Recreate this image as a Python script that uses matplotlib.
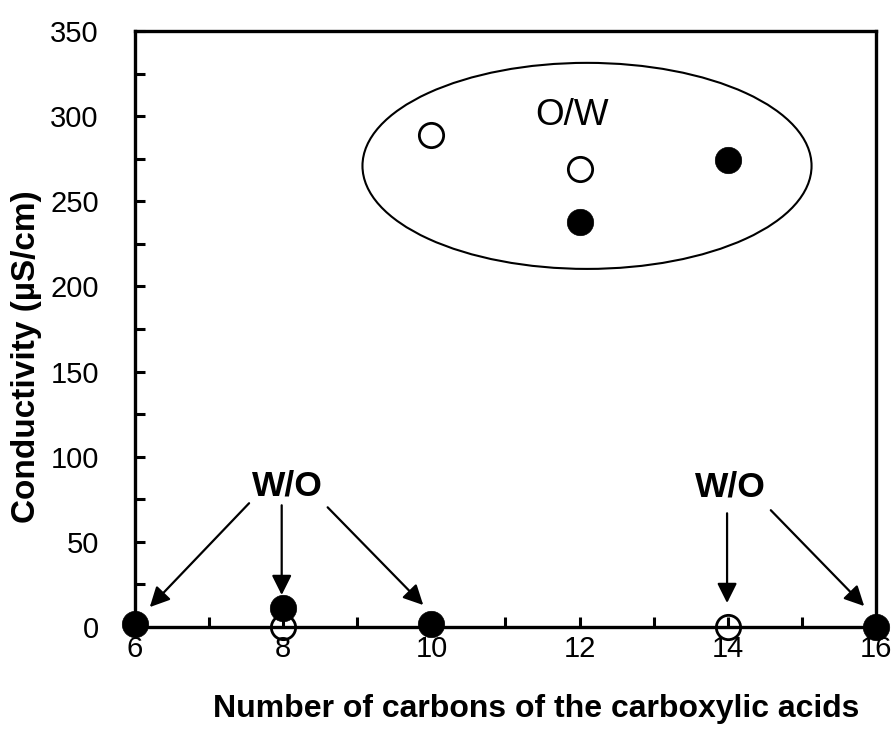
import matplotlib
matplotlib.use("Agg")
import matplotlib.pyplot as plt
from matplotlib.patches import Ellipse

plt.rcParams['font.family'] = ['Liberation Sans', 'DejaVu Sans']

# Data
carbons_filled = [6, 8, 10, 12, 14, 16]
cond_filled = [2, 11, 2, 238, 274, 0]
carbons_open = [8, 10, 12, 14]
cond_open = [0, 289, 269, 0]

x_ticks = [6, 8, 10, 12, 14, 16]
y_ticks = [0, 50, 100, 150, 200, 250, 300, 350]

fig = plt.figure(figsize=(8.95, 7.35), dpi=100)
ax = fig.add_axes([0.1508, 0.1469, 0.8280, 0.8109])

ax.set_xlim(6, 16)
ax.set_ylim(0, 350)

# O/W region ellipse
ell = Ellipse((12.10, 270.8), 6.06, 121, fill=False, edgecolor='black', lw=1.5)
ax.add_patch(ell)

ax.plot(carbons_open, cond_open, linestyle='none', marker='o', ms=17.5,
        mfc='none', mec='black', mew=2.0, clip_on=False, zorder=5)
ax.plot(carbons_filled, cond_filled, linestyle='none', marker='o', ms=19,
        mfc='black', mec='black', mew=0.5, clip_on=False, zorder=6)

# Annotations
ax.text(11.90, 300.5, 'O/W', ha='center', va='center', fontsize=26.5)
ax.text(8.06, 83, 'W/O', ha='center', va='center', fontsize=25.5, fontweight='bold')
ax.text(14.03, 82, 'W/O', ha='center', va='center', fontsize=25.5, fontweight='bold')

arrow_kw = dict(arrowstyle='-|>', color='black', lw=1.6, mutation_scale=30,
                shrinkA=0, shrinkB=0)
arrows = [((7.54, 72.7), (6.20, 11.7)),
          ((7.98, 71.5), (7.98, 18.8)),
          ((8.60, 70.3), (9.89, 12.9)),
          ((13.99, 66.8), (13.99, 14.1)),
          ((14.58, 68.6), (15.84, 12.3))]
for start, tip in arrows:
    ax.annotate('', xy=tip, xytext=start, arrowprops=arrow_kw)

ax.set_xticks(x_ticks)
ax.set_xticks(range(6, 17), minor=True)
ax.set_yticks(y_ticks)
ax.set_yticks(range(0, 351, 25), minor=True)
ax.tick_params(which='both', direction='in', width=2.2, labelsize=21,
               top=False, right=False)
ax.tick_params(which='major', length=7)
ax.tick_params(which='minor', length=7)
ax.tick_params(axis='y', pad=26)
ax.tick_params(axis='x', pad=6)

for s in ax.spines.values():
    s.set_linewidth(2.4)

ax.set_xlabel('Number of carbons of the carboxylic acids', fontsize=23,
              fontweight='bold')
ax.xaxis.set_label_coords(0.541, -0.113)
ax.set_ylabel('Conductivity (µS/cm)', fontsize=24, fontweight='bold')
ax.yaxis.set_label_coords(-0.126, 0.453)

fig.savefig('out.png', dpi=100)
